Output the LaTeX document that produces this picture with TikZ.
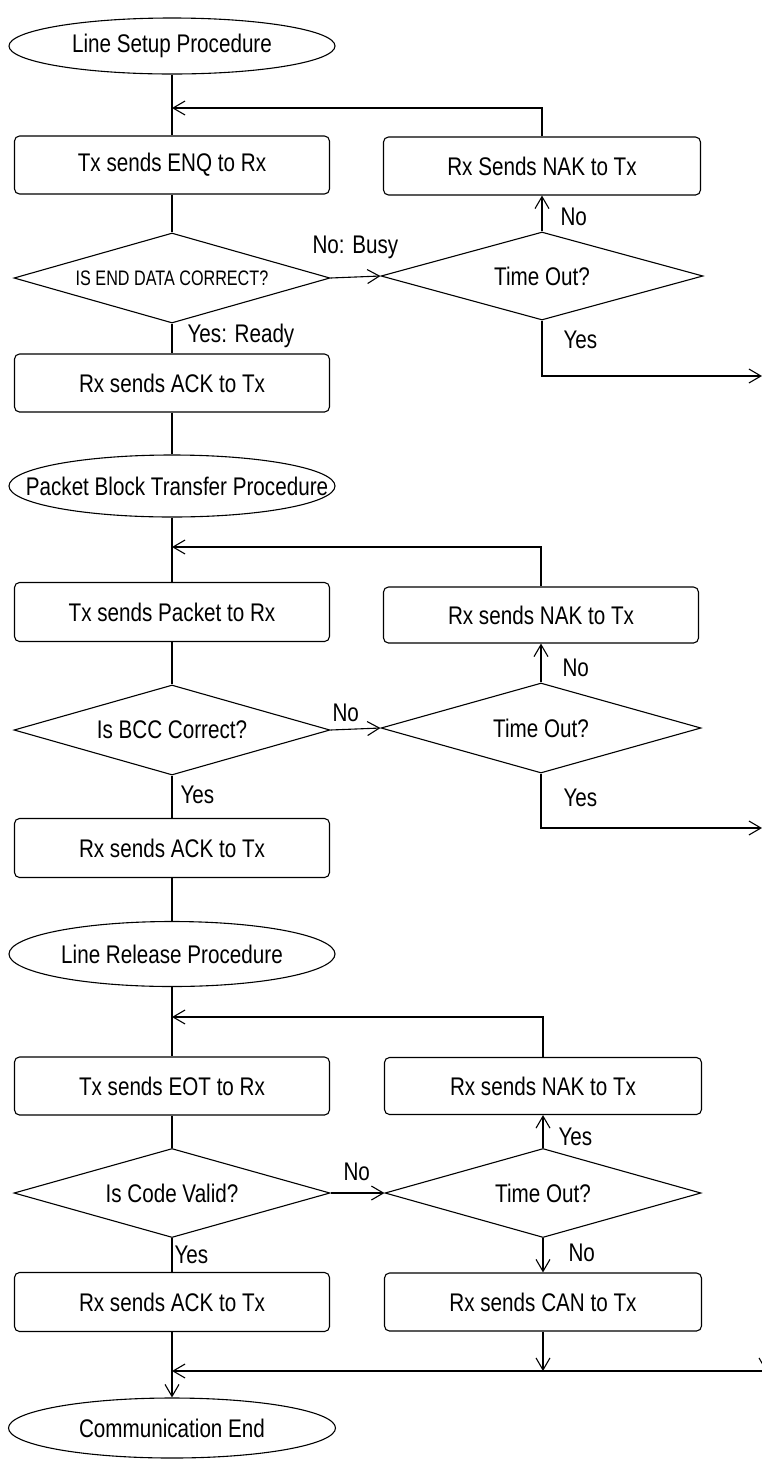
\documentclass[tikz,border=0pt]{standalone}
\usepackage{fontspec}
\setmainfont{Liberation Sans}[FakeStretch=0.81]
\newfontfamily\narrowfont{Liberation Sans}[FakeStretch=0.77]
\usetikzlibrary{shapes.geometric,arrows.meta,calc}
\begin{document}
\begin{tikzpicture}[x=1pt,y=-1pt,
  line width=1.1pt,
  every node/.style={font=\fontsize{25.5}{29}\selectfont, inner sep=0pt},
  proc/.style={draw, rounded corners=5pt, minimum width=315pt, minimum height=58pt},
  term/.style={draw, ellipse, minimum width=326pt, minimum height=60pt},
  dec/.style={draw, diamond, minimum width=316pt, minimum height=89pt},
  small/.style={font=\narrowfont\fontsize{21}{24}\selectfont},
  lbl/.style={anchor=west},
  arr/.style={-{Straight Barb[length=12pt,width=14pt]}},
]
\useasboundingbox (0,0) rectangle (762,1460);
\clip (0,0) rectangle (762,1460);

% ---- Section 1
\node[term, minimum height=56pt] (e1) at (172,46) {};
\node (e1t) at (e1) {Line Setup Procedure};
\coordinate (j1) at (172,108);
\node[proc] (b1) at (172,165) {Tx sends ENQ to Rx};
\node[dec, minimum height=90pt] (d1) at (172,278) {};
\node[small] (d1t) at (d1) {IS END DATA CORRECT?};
\node[proc] (b2) at (172,383) {Rx sends ACK to Tx};
\node[term, minimum height=62pt] (e2) at (172,486) {};
\node (e2t) at ([xshift=5pt]e2.center) {Packet Block Transfer Procedure};

\node[proc, minimum width=317pt] (n1) at (542,166) {Rx Sends NAK to Tx};
\node[dec, minimum width=322pt, minimum height=88pt] (t1) at (542,276) {};
\node (t1t) at (t1) {Time Out?};
\coordinate (x1) at (762,376);

\draw (e1.south) -- (b1.north);
\draw (b1.south) -- (d1.north);
\draw (d1.south) -- (b2.north);
\draw (b2.south) -- (e2.north);
\draw[arr] (d1.east) -- (t1.west);
\draw[arr] (t1.north) -- (n1.south);
\draw[arr] (n1.north) |- (j1);
\draw[arr] (t1.south) |- (x1);

\node[lbl] at (312,247) {No: Busy};
\node[lbl] at (187,336) {Yes: Ready};
\node[lbl] at (560,217) {No};
\node[lbl] at (563,340) {Yes};

% ---- Section 2
\coordinate (j2) at (172,547);
\node[proc, minimum height=59pt] (b3) at (172,612) {Tx sends Packet to Rx};
\node[dec, minimum height=90pt] (d2) at (172,730) {};
\node (d2t) at (d2) {Is BCC Correct?};
\node[proc, minimum height=59pt] (b4) at (172,848) {Rx sends ACK to Tx};
\node[term, minimum height=65pt] (e3) at (172,954) {};
\node (e3t) at (e3) {Line Release Procedure};

\node[proc, minimum height=56pt] (n2) at (541,615) {Rx sends NAK to Tx};
\node[dec, minimum width=320pt, minimum height=90pt] (t2) at (541,728) {};
\node (t2t) at (t2) {Time Out?};
\coordinate (x2) at (762,828);

\draw (e2.south) -- (b3.north);
\draw (b3.south) -- (d2.north);
\draw (d2.south) -- (b4.north);
\draw (b4.south) -- (e3.north);
\draw[arr] (d2.east) -- (t2.west);
\draw[arr] (t2.north) -- (n2.south);
\draw[arr] (n2.north) |- (j2);
\draw[arr] (t2.south) |- (x2);

\node[lbl] at (332,713) {No};
\node[lbl] at (562,668) {No};
\node[lbl] at (563,798) {Yes};
\node[lbl] at (180,795) {Yes};

% ---- Section 3
\coordinate (j3) at (172,1017);
\node[proc] (b5) at (172,1086) {Tx sends EOT to Rx};
\node[dec] (d3) at (172,1193) {};
\node (d3t) at (d3) {Is Code Valid?};
\node[proc, minimum height=59pt] (b6) at (172,1302) {Rx sends ACK to Tx};
\coordinate (j4) at (172,1371);
\node[term, minimum width=327pt] (e4) at (172,1428) {};
\node (e4t) at (e4) {Communication End};

\node[proc, minimum width=317pt, minimum height=57pt] (n3) at (543,1086) {Rx sends NAK to Tx};
\node[dec] (t3) at (543,1193) {};
\node (t3t) at (t3) {Time Out?};
\node[proc, minimum width=317pt] (n4) at (543,1302) {Rx sends CAN to Tx};
\coordinate (m4) at (543,1371);
\coordinate (r4) at (762,1371);
\coordinate (q4) at (766,1371);
\coordinate (q4top) at (766,1320);

\draw (e3.south) -- (j3);
\draw (j3) -- (b5.north);
\draw (b5.south) -- (d3.north);
\draw (d3.south) -- (b6.north);
\draw (b6.south) -- (j4);
\draw[arr] (j4) -- (e4.north);
\draw[arr] (d3.east) -- (t3.west);
\draw[arr] (t3.north) -- (n3.south);
\draw[arr] (n3.north) |- (j3);
\draw[arr] (t3.south) -- (n4.north);
\draw[arr] (n4.south) -- (m4);
\draw[arr] (r4) -- (j4);
\draw[arr] (q4top) -- (q4);

\node[lbl] at (343,1172) {No};
\node[lbl] at (558,1137) {Yes};
\node[lbl] at (568,1253) {No};
\node[lbl] at (174,1255) {Yes};
\end{tikzpicture}
\end{document}
